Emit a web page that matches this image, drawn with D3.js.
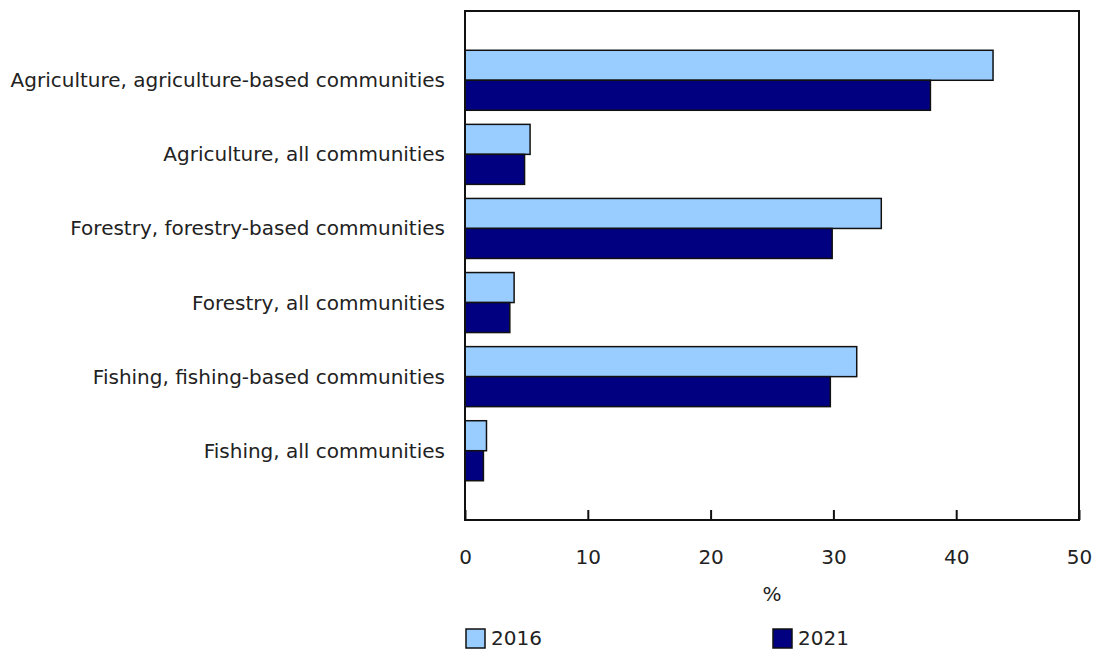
<!DOCTYPE html>
<html>
<head>
<meta charset="utf-8">
<script src="https://cdn.jsdelivr.net/npm/d3@7"></script>
<style>
  body { margin: 0; background: #fff; }
  text { font-family: "DejaVu Sans", Verdana, sans-serif; fill: #222; }
</style>
</head>
<body>
<script>
// data
var categories = [
    "Agriculture, agriculture-based communities",
    "Agriculture, all communities",
    "Forestry, forestry-based communities",
    "Forestry, all communities",
    "Fishing, fishing-based communities",
    "Fishing, all communities"
];
var seriesNames = ["2016", "2021"];
var values2016 = [43.0, 5.3, 33.9, 4.0, 31.9, 1.75];
var values2021 = [37.9, 4.85, 29.9, 3.65, 29.75, 1.5];
var xTicks = [0, 10, 20, 30, 40, 50];
var colors = ["#99ccff", "#000080"];

function init()
{
    var w = 1093;
    var h = 651;
    var left = 465, right = 1079, top = 11, bottom = 520;

    var svg = d3.select("body")
                .append("svg")
                .attr("width", w)
                .attr("height", h);

    var x = d3.scaleLinear()
              .domain([0, 50])
              .range([left, right]);

    var y = d3.scaleBand()
              .domain(categories)
              .range([top, bottom])
              .paddingInner(0.19)
              .paddingOuter(0.53);

    var ySub = d3.scaleBand()
                 .domain(seriesNames)
                 .range([0, y.bandwidth()]);

    var rows = categories.map(function(c, i) {
        return {cat: c, vals: [values2016[i], values2021[i]]};
    });

    var groups = svg.selectAll("g.row")
                    .data(rows)
                    .enter()
                    .append("g")
                    .attr("class", "row")
                    .attr("transform", function(d) { return "translate(0," + y(d.cat) + ")"; });

    groups.selectAll("rect")
          .data(function(d) { return d.vals; })
          .enter()
          .append("rect")
          .attr("x", x(0))
          .attr("y", function(d, i) { return ySub(seriesNames[i]); })
          .attr("width", function(d) { return x(d) - x(0); })
          .attr("height", ySub.bandwidth())
          .style("fill", function(d, i) { return colors[i]; })
          .style("stroke", "#111")
          .style("stroke-width", 1.5);

    // category labels
    svg.selectAll("text.cat")
       .data(categories)
       .enter()
       .append("text")
       .attr("class", "cat")
       .attr("x", left - 20)
       .attr("y", function(d) { return y(d) + y.bandwidth() / 2; })
       .attr("dy", "0.35em")
       .attr("text-anchor", "end")
       .style("font-size", "20px")
       .text(function(d) { return d; });

    // frame
    svg.append("rect")
       .attr("x", left)
       .attr("y", top)
       .attr("width", right - left)
       .attr("height", bottom - top)
       .style("fill", "none")
       .style("stroke", "#111")
       .style("stroke-width", 2);

    // x axis
    var xAxis = d3.axisBottom(x)
                  .tickValues(xTicks)
                  .tickSize(-10)
                  .tickPadding(30)
                  .tickFormat(d3.format("d"));

    var gx = svg.append("g")
                .attr("transform", "translate(0," + bottom + ")")
                .call(xAxis);
    gx.select(".domain").remove();
    gx.selectAll("line").style("stroke", "#111").style("stroke-width", 2);
    gx.selectAll("text")
      .style("font-size", "20px")
      .style("font-family", "'DejaVu Sans', Verdana, sans-serif")
      .style("fill", "#222");

    svg.append("text")
       .attr("x", (left + right) / 2)
       .attr("y", 601)
       .attr("text-anchor", "middle")
       .style("font-size", "20px")
       .text("%");

    // legend
    var legendX = [466, 773];
    var legend = svg.selectAll("g.legend")
                    .data(seriesNames)
                    .enter()
                    .append("g")
                    .attr("class", "legend")
                    .attr("transform", function(d, i) { return "translate(" + legendX[i] + ",629)"; });
    legend.append("rect")
          .attr("width", 19)
          .attr("height", 19)
          .style("fill", function(d, i) { return colors[i]; })
          .style("stroke", "#111")
          .style("stroke-width", 1.5);
    legend.append("text")
          .attr("x", 25)
          .attr("y", 16)
          .style("font-size", "20px")
          .text(function(d) { return d; });
}
window.onload = init
</script>
</body>
</html>
